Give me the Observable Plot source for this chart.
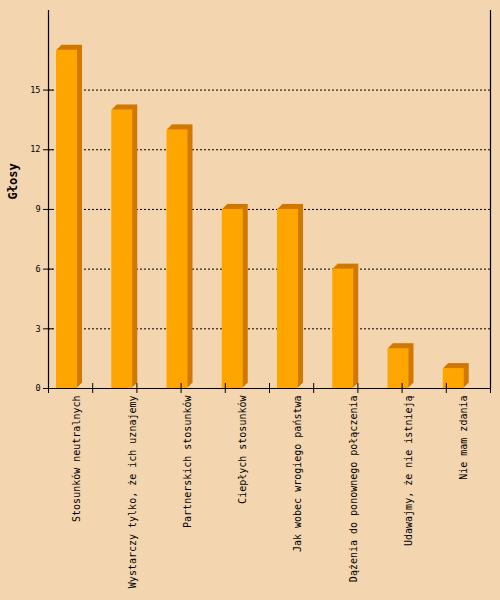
<!DOCTYPE html>
<html>
<head>
<meta charset="utf-8">
<script src="https://cdn.jsdelivr.net/npm/d3@7"></script>
<script src="https://cdn.jsdelivr.net/npm/@observablehq/plot@0.6"></script>
<style>
  html, body { margin: 0; padding: 0; background: #F3D5B0; }
  #chart svg { display: block; }
</style>
</head>
<body>
<div id="chart"></div>
<script>
const categories = [
  "Stosunków neutralnych",
  "Wystarczy tylko, że ich uznajemy",
  "Partnerskich stosunków",
  "Ciepłych stosunków",
  "Jak wobec wrogiego państwa",
  "Dążenia do ponownego połączenia",
  "Udawajmy, że nie istnieją",
  "Nie mam zdania"
];
const votes = [17, 14, 13, 9, 9, 6, 2, 1];
const yTicks = [0, 3, 6, 9, 12, 15];
const gridTicks = [3, 6, 9, 12, 15];
const yTitle = "Głosy";

const data = categories.map((c, i) => ({cat: c, i, v: votes[i]}));
const xTickPositions = d3.range(0, 11).map(k => k * categories.length / 10);

const front = "#FFA500";
const dark = "#D07800";
const mono = "DejaVu Sans Mono";

const depthMarks = [5, 4, 3, 2, 1].map(k =>
  Plot.rect(data, {x1: d => d.i, x2: d => d.i + 1, y1: 0, y2: "v",
    insetLeft: 8, insetRight: 26.25, dx: k, dy: -k, fill: dark})
);

const chart = Plot.plot({
  width: 500,
  height: 600,
  marginLeft: 48,
  marginRight: 10,
  marginTop: 10,
  marginBottom: 212,
  style: {background: "#F3D5B0", fontFamily: mono},
  x: {domain: [0, categories.length], axis: null},
  y: {domain: [0, 19], axis: null},
  marks: [
    Plot.ruleY(gridTicks, {stroke: "black", strokeDasharray: "2,2", strokeWidth: 1}),
    ...depthMarks,
    Plot.rect(data, {x1: d => d.i, x2: d => d.i + 1, y1: 0, y2: "v",
      insetLeft: 8, insetRight: 26.25, fill: front}),
    // axes lines
    Plot.ruleX([0, categories.length], {stroke: "black", strokeWidth: 1.2}),
    Plot.ruleY([0], {stroke: "black", strokeWidth: 1.2}),
    // x ticks
    Plot.ruleX(xTickPositions, {y1: 0, y2: 0, insetTop: -5, insetBottom: -5, stroke: "black"}),
    // y ticks
    Plot.ruleY(yTicks, {x1: 0, x2: 0, insetLeft: -5, insetRight: -5, stroke: "black"}),
    Plot.text(yTicks, {x: 0, y: d => d, dx: -8, textAnchor: "end",
      fontSize: 8.5, fontFamily: mono, fill: "black"}),
    // category labels
    Plot.text(data, {x: d => d.i + 0.5, y: 0, text: "cat", rotate: -90,
      textAnchor: "end", dy: 7, dx: 1, fontSize: 10, fontFamily: mono, fill: "black"}),
    // y title
    Plot.text([yTitle], {frameAnchor: "left", dx: -35, rotate: -90,
      fontSize: 12, fontWeight: "bold", fontFamily: mono, fill: "black"})
  ]
});
document.getElementById("chart").appendChild(chart);
</script>
</body>
</html>
